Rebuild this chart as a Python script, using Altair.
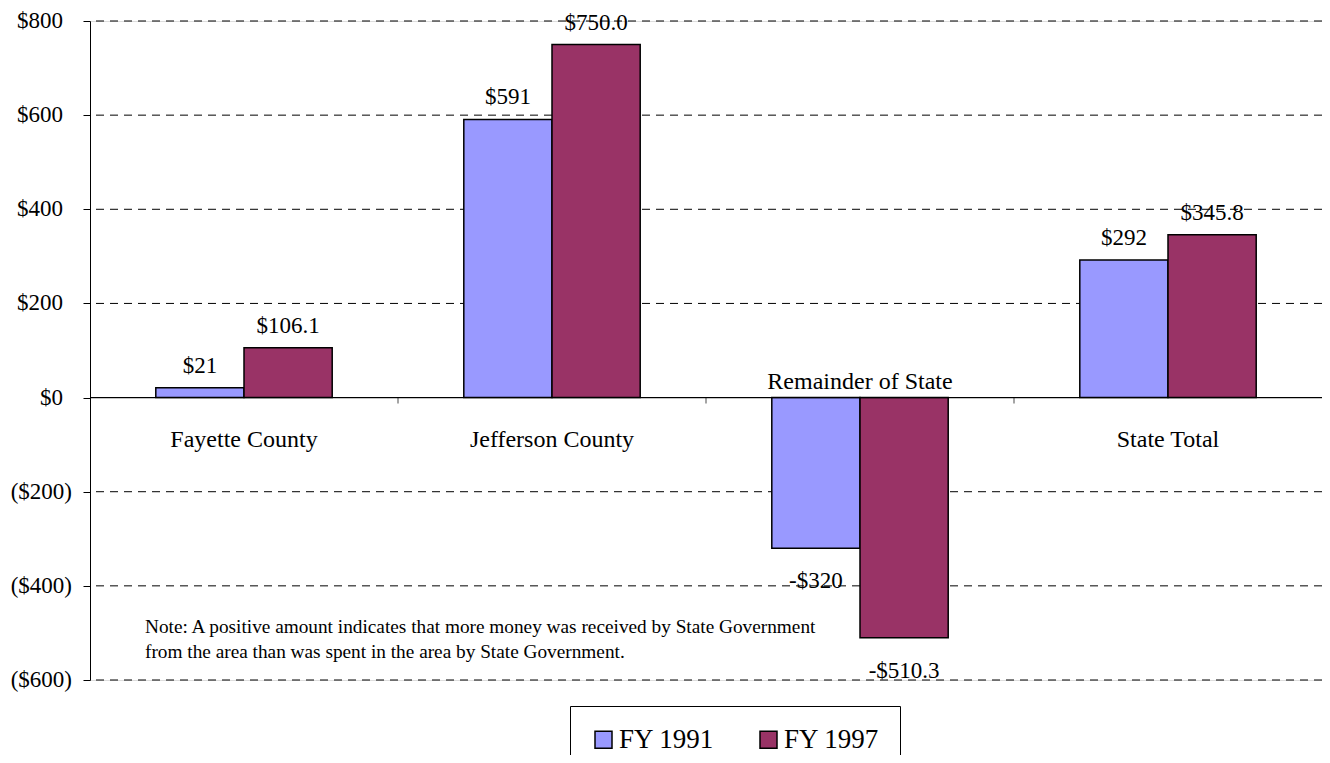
import altair as alt
import pandas as pd

categories = ["Fayette County", "Jefferson County", "Remainder of State", "State Total"]
series = ["FY 1991", "FY 1997"]
fy1991 = [21, 591, -320, 292]
fy1997 = [106.1, 750.0, -510.3, 345.8]
fy1991_labels = ["$21", "$591", "-$320", "$292"]
fy1997_labels = ["$106.1", "$750.0", "-$510.3", "$345.8"]
y_ticks = [800, 600, 400, 200, 0, -200, -400, -600]
y_tick_labels = ["$800", "$600", "$400", "$200", "$0", "($200)", "($400)", "($600)"]
colors = ["#9999FF", "#993366"]
note_lines = [
    "Note: A positive amount indicates that more money was received by State Government",
    "from the area than was spent in the area by State Government.",
]

FONT = "Liberation Serif"

rows = []
for i, c in enumerate(categories):
    rows.append(dict(category=c, series=series[0], value=fy1991[i], label=fy1991_labels[i]))
    rows.append(dict(category=c, series=series[1], value=fy1997[i], label=fy1997_labels[i]))
df = pd.DataFrame(rows)
cat_df = pd.DataFrame({"category": categories,
                       "minv": [min(a, b) for a, b in zip(fy1991, fy1997)]})
grid_df = pd.DataFrame({"v": [t for t in y_ticks if t != 0]})
ylab_df = pd.DataFrame({"v": y_ticks, "lab": y_tick_labels})
boundary_df = pd.DataFrame({"category": categories[1:]})
note_df = pd.DataFrame({"note": ["\n".join(note_lines)]})

xscale = alt.Scale(domain=categories, paddingInner=0, paddingOuter=0)
yscale = alt.Scale(domain=[-600, 800], nice=False, zero=False)
offscale = alt.Scale(domain=series, paddingInner=0, paddingOuter=0.746)

yaxis = alt.Axis(values=y_ticks, title=None, grid=False, domainColor="black",
                 tickColor="black", tickSize=7, labels=False)

grid = alt.Chart(grid_df).mark_rule(color="black", strokeWidth=1, strokeDash=[8, 6]).encode(
    y=alt.Y("v:Q", scale=yscale, axis=yaxis)
)

ylab_pos = alt.Chart(ylab_df).transform_filter("datum.v >= 0").mark_text(
    font=FONT, fontSize=23, color="black", align="right", baseline="middle"
).encode(
    x=alt.value(-27),
    y=alt.Y("v:Q", scale=yscale),
    text="lab:N",
)

ylab_neg = alt.Chart(ylab_df).transform_filter("datum.v < 0").mark_text(
    font=FONT, fontSize=23, color="black", align="right", baseline="middle"
).encode(
    x=alt.value(-18),
    y=alt.Y("v:Q", scale=yscale),
    text="lab:N",
)

bars = alt.Chart(df).mark_bar(stroke="black", strokeWidth=1.5).encode(
    x=alt.X("category:N", scale=xscale, sort=categories, axis=None),
    xOffset=alt.XOffset("series:N", scale=offscale, sort=series),
    y=alt.Y("value:Q", scale=yscale, axis=yaxis),
    y2=alt.datum(0),
    color=alt.Color("series:N", scale=alt.Scale(domain=series, range=colors),
                    legend=alt.Legend(title=None, direction="horizontal", orient="none",
                                      legendX=480, legendY=685, strokeColor="black",
                                      fillColor="white", padding=20, symbolType="square",
                                      symbolSize=289, symbolStrokeColor="black",
                                      symbolStrokeWidth=1.5, symbolOpacity=1,
                                      labelFont=FONT, labelFontSize=27, labelColor="black",
                                      labelOffset=2, columnPadding=40, labelLimit=300)),
)

zero_line = alt.Chart(cat_df).mark_rule(color="black", strokeWidth=1).encode(
    y=alt.datum(0)
)

ticks = alt.Chart(boundary_df).mark_tick(orient="vertical", size=6, thickness=1,
                                         color="black", yOffset=3).encode(
    x=alt.X("category:N", scale=xscale, sort=categories, bandPosition=0),
    y=alt.datum(0),
)

pos_labels = alt.Chart(df).transform_filter("datum.value >= 0").mark_text(
    font=FONT, fontSize=23, color="black", baseline="alphabetic", dy=-15
).encode(
    x=alt.X("category:N", scale=xscale, sort=categories),
    xOffset=alt.XOffset("series:N", scale=offscale, sort=series),
    y=alt.Y("value:Q", scale=yscale),
    text="label:N",
)

neg_labels = alt.Chart(df).transform_filter("datum.value < 0").mark_text(
    font=FONT, fontSize=23, color="black", baseline="alphabetic", dy=40
).encode(
    x=alt.X("category:N", scale=xscale, sort=categories),
    xOffset=alt.XOffset("series:N", scale=offscale, sort=series),
    y=alt.Y("value:Q", scale=yscale),
    text="label:N",
)

cat_below = alt.Chart(cat_df).transform_filter("datum.minv >= 0").mark_text(
    font=FONT, fontSize=24, color="black", baseline="alphabetic", dy=49
).encode(
    x=alt.X("category:N", scale=xscale, sort=categories),
    y=alt.datum(0),
    text="category:N",
)

cat_above = alt.Chart(cat_df).transform_filter("datum.minv < 0").mark_text(
    font=FONT, fontSize=24, color="black", baseline="alphabetic", dy=-9
).encode(
    x=alt.X("category:N", scale=xscale, sort=categories),
    y=alt.datum(0),
    text="category:N",
)

note = alt.Chart(note_df).mark_text(
    font=FONT, fontSize=19.3, color="black", align="left", baseline="alphabetic",
    lineBreak="\n", lineHeight=25
).encode(
    x=alt.value(55),
    y=alt.value(612),
    text="note:N",
)

chart = alt.layer(
    grid, bars, zero_line, ticks, ylab_pos, ylab_neg, pos_labels, neg_labels,
    cat_below, cat_above, note
).properties(
    width=1232, height=659, autosize="none",
    padding={"left": 82, "top": 13, "right": 0, "bottom": 75},
).configure_view(stroke="#808080", strokeWidth=1).configure(background="white")

chart.save("out.html", embed_options={"renderer": "svg", "actions": False})
